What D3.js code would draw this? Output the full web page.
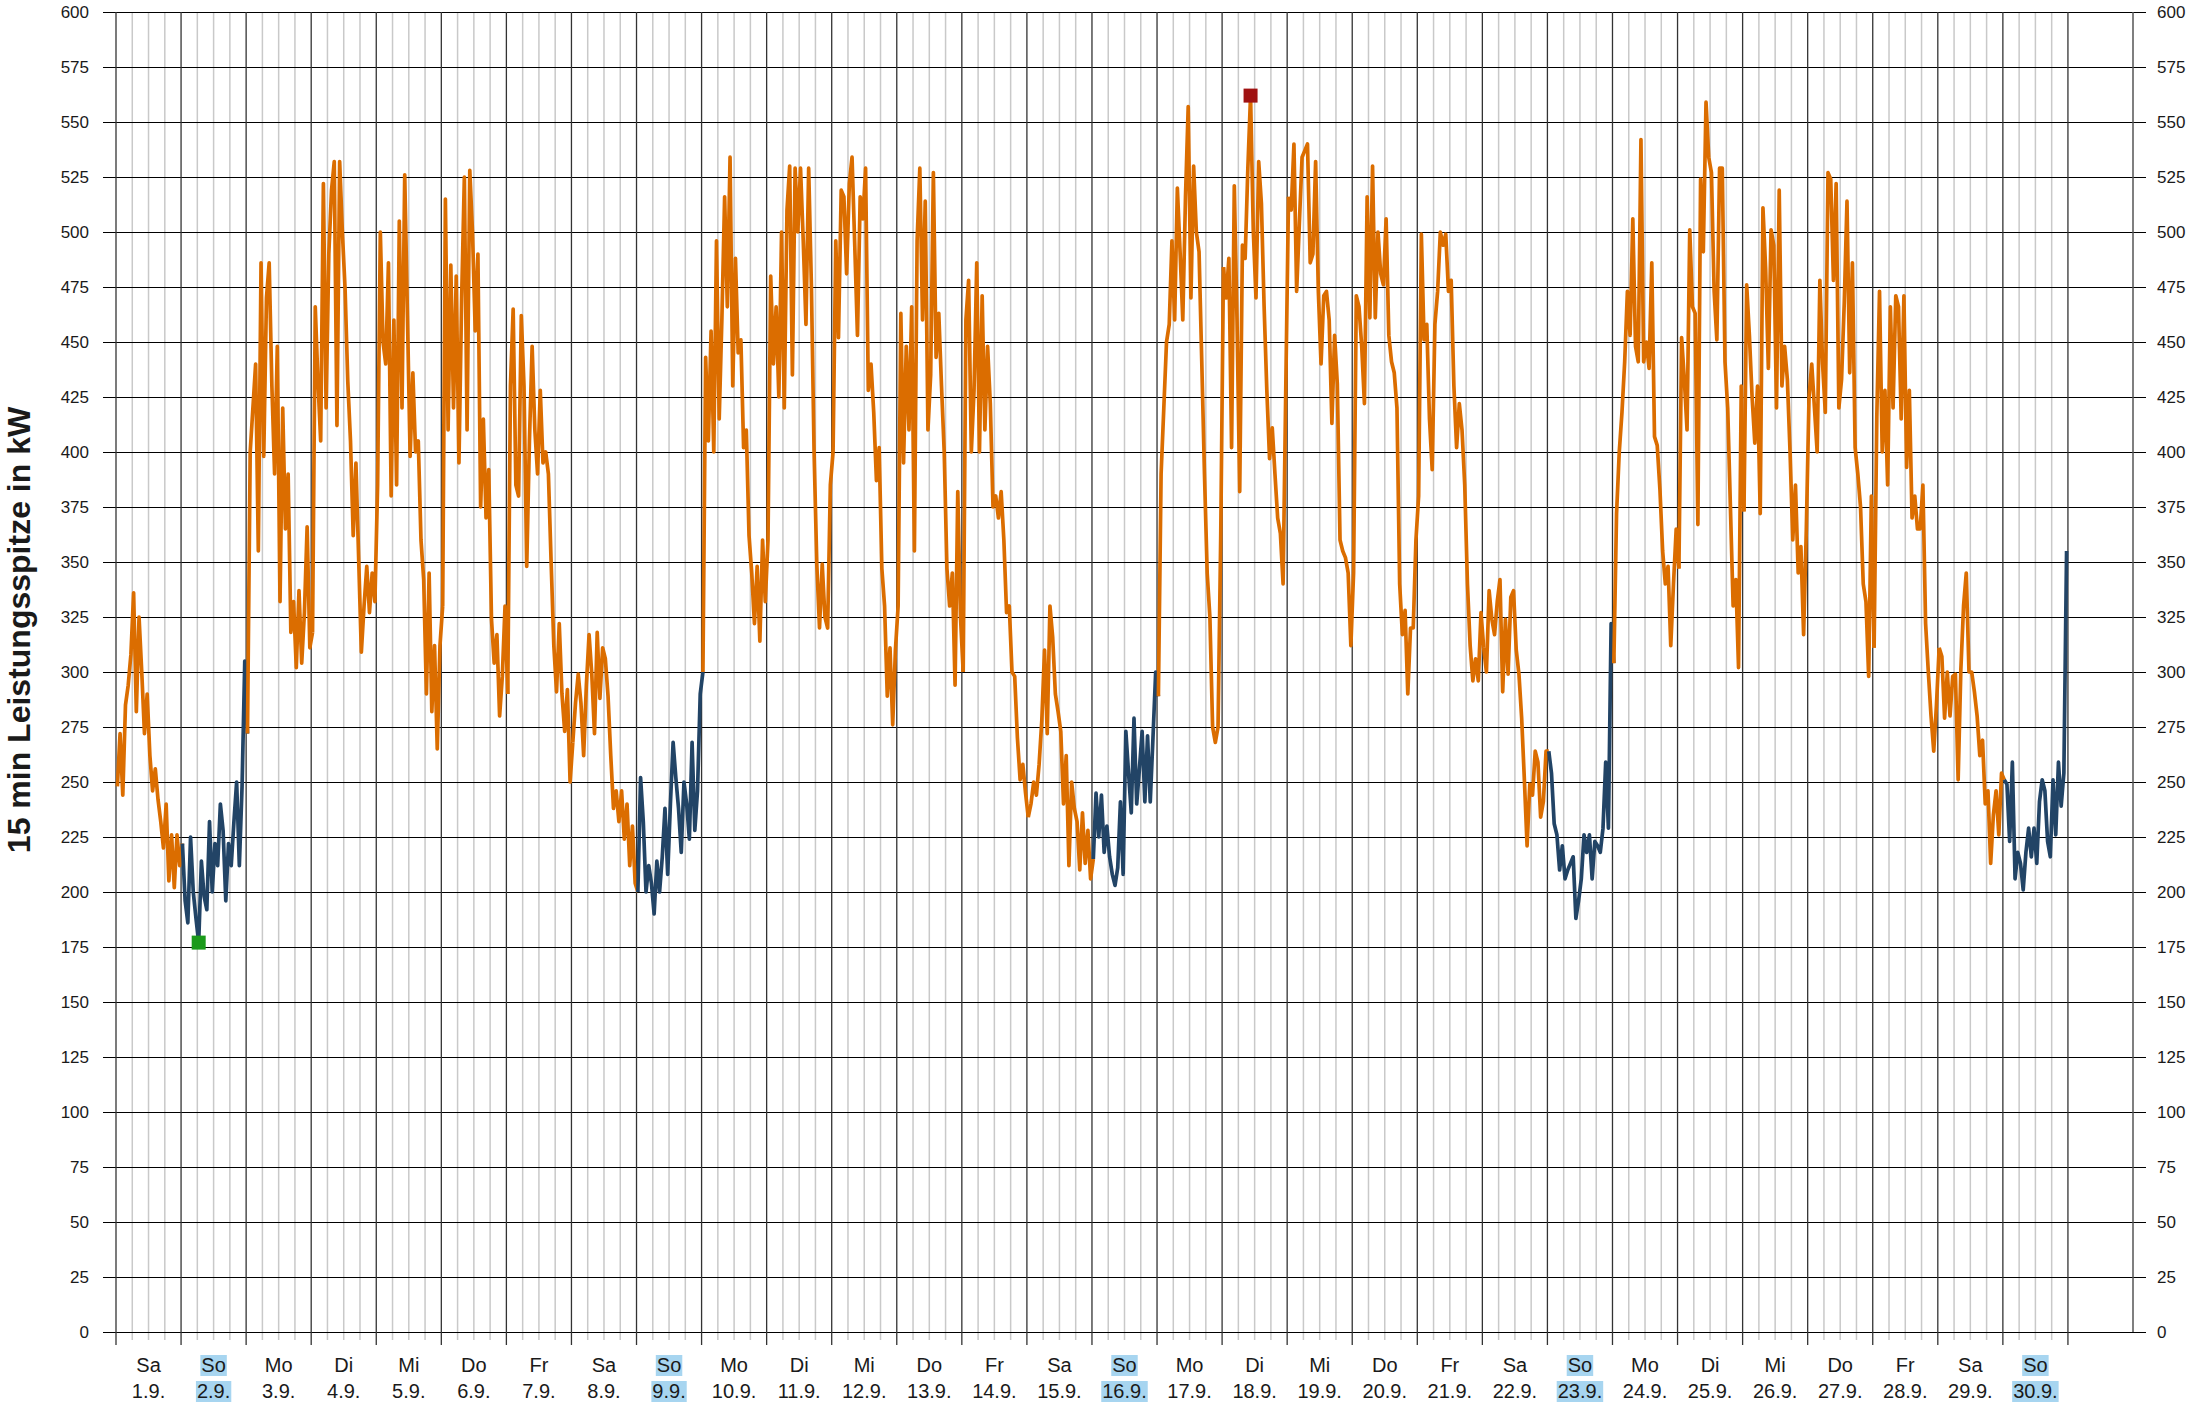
<!DOCTYPE html>
<html>
<head>
<meta charset="utf-8">
<script src="https://d3js.org/d3.v7.min.js"></script>
<style>
body { margin: 0; background: #fff; }
svg text { font-family: "Liberation Sans", Arial, sans-serif; fill: #1a1a1a; }
</style>
</head>
<body>
<div id="chart"></div>
<script>
// hourly 15-min peak values (kW), one array per day of September
const sep01 = [248, 272, 244, 285, 294, 308, 336, 282, 325, 300, 272, 290, 262, 246, 256, 242, 232, 220, 240, 205, 226, 202, 226, 212]
const sep02 = [222, 196, 186, 225, 200, 188, 177, 214, 198, 192, 232, 200, 222, 212, 240, 228, 196, 222, 212, 232, 250, 212, 248, 305]
const sep03 = [272, 400, 420, 440, 355, 486, 398, 470, 486, 430, 390, 448, 332, 420, 365, 390, 318, 332, 302, 337, 304, 327, 366, 311]
const sep04 = [318, 466, 432, 405, 522, 420, 490, 519, 532, 412, 532, 500, 474, 432, 405, 362, 395, 352, 309, 330, 348, 327, 345, 332]
const sep05 = [385, 500, 450, 440, 486, 380, 460, 385, 505, 420, 526, 462, 398, 436, 400, 405, 360, 342, 290, 345, 282, 312, 265, 312]
const sep06 = [330, 515, 410, 485, 420, 480, 395, 470, 525, 410, 528, 500, 455, 490, 375, 415, 370, 392, 324, 304, 317, 280, 298, 330]
const sep07 = [290, 430, 465, 385, 380, 462, 430, 348, 405, 448, 410, 390, 428, 395, 400, 390, 350, 312, 291, 322, 290, 273, 292, 250]
const sep08 = [268, 286, 299, 286, 262, 294, 317, 299, 272, 318, 288, 311, 306, 289, 262, 238, 246, 232, 246, 224, 240, 212, 230, 204]
const sep09 = [200, 252, 232, 200, 212, 204, 190, 214, 200, 216, 238, 208, 240, 268, 252, 238, 218, 250, 240, 224, 268, 228, 246, 290]
const sep10 = [300, 443, 405, 455, 400, 496, 415, 461, 516, 466, 534, 430, 488, 445, 451, 402, 410, 362, 345, 322, 348, 314, 360, 332]
const sep11 = [360, 480, 440, 466, 425, 500, 420, 510, 530, 435, 529, 500, 529, 496, 458, 529, 476, 400, 349, 320, 349, 325, 320, 385]
const sep12 = [400, 496, 452, 519, 516, 481, 522, 534, 494, 453, 516, 506, 529, 428, 440, 418, 387, 402, 347, 330, 289, 311, 276, 310]
const sep13 = [330, 463, 395, 448, 410, 466, 355, 496, 529, 460, 514, 410, 435, 527, 443, 463, 430, 400, 347, 330, 345, 294, 382, 325]
const sep14 = [300, 460, 478, 400, 428, 486, 400, 471, 410, 448, 422, 375, 380, 370, 382, 360, 327, 330, 300, 298, 270, 251, 258, 245]
const sep15 = [234, 240, 250, 244, 258, 278, 310, 272, 330, 316, 290, 282, 273, 240, 262, 212, 250, 238, 232, 210, 236, 213, 228, 206]
const sep16 = [215, 245, 225, 244, 218, 230, 216, 208, 203, 211, 241, 208, 273, 254, 236, 279, 240, 256, 273, 241, 271, 241, 270, 300]
const sep17 = [289, 390, 420, 450, 458, 496, 460, 520, 491, 460, 516, 557, 470, 530, 500, 491, 441, 390, 345, 325, 275, 268, 275, 362]
const sep18 = [484, 470, 488, 402, 521, 460, 382, 494, 488, 529, 562, 501, 470, 532, 513, 466, 428, 397, 411, 390, 370, 363, 340, 430]
const sep19 = [516, 510, 540, 473, 504, 534, 537, 540, 486, 490, 532, 473, 440, 471, 473, 460, 413, 453, 431, 360, 355, 352, 345, 312]
const sep20 = [345, 471, 466, 448, 422, 516, 461, 530, 461, 500, 481, 476, 506, 453, 441, 436, 420, 340, 317, 328, 290, 320, 320, 360]
const sep21 = [380, 499, 451, 458, 415, 392, 458, 473, 500, 494, 499, 473, 478, 430, 402, 422, 410, 385, 340, 312, 296, 306, 296, 327]
const sep22 = [311, 300, 337, 324, 317, 332, 342, 291, 324, 299, 334, 337, 310, 299, 279, 251, 221, 249, 244, 264, 259, 234, 241, 264]
const sep23 = [264, 254, 231, 226, 210, 221, 206, 210, 213, 216, 188, 196, 206, 226, 218, 226, 206, 223, 221, 218, 229, 259, 229, 322]
const sep24 = [304, 372, 400, 418, 441, 473, 453, 506, 448, 441, 542, 441, 450, 438, 486, 407, 403, 383, 355, 340, 348, 312, 340, 365]
const sep25 = [347, 452, 433, 410, 501, 466, 463, 367, 524, 491, 559, 534, 527, 473, 451, 529, 529, 441, 420, 375, 330, 342, 302, 430]
const sep26 = [373, 476, 453, 425, 404, 430, 372, 511, 483, 438, 501, 494, 420, 519, 430, 448, 433, 400, 360, 385, 345, 357, 317, 365]
const sep27 = [425, 440, 420, 400, 478, 440, 418, 527, 524, 478, 522, 420, 433, 468, 514, 436, 486, 402, 390, 375, 340, 332, 298, 380]
const sep28 = [311, 416, 473, 400, 428, 385, 466, 420, 471, 466, 415, 471, 393, 428, 370, 380, 365, 365, 385, 322, 300, 280, 264, 285]
const sep29 = [311, 307, 279, 300, 280, 298, 299, 251, 301, 330, 345, 300, 300, 291, 280, 262, 269, 240, 246, 213, 235, 246, 226, 254]
const sep30 = [251, 249, 223, 259, 206, 218, 213, 201, 218, 229, 216, 229, 213, 241, 251, 246, 223, 216, 251, 226, 259, 239, 254, 355]

const hourly = [sep01, sep02, sep03, sep04, sep05, sep06, sep07, sep08, sep09, sep10,
                sep11, sep12, sep13, sep14, sep15, sep16, sep17, sep18, sep19, sep20,
                sep21, sep22, sep23, sep24, sep25, sep26, sep27, sep28, sep29, sep30]

const dayNames = ['Sa','So','Mo','Di','Mi','Do','Fr','Sa','So','Mo','Di','Mi','Do','Fr','Sa',
                  'So','Mo','Di','Mi','Do','Fr','Sa','So','Mo','Di','Mi','Do','Fr','Sa','So']
const dateLabels = ['1.9.','2.9.','3.9.','4.9.','5.9.','6.9.','7.9.','8.9.','9.9.','10.9.',
                    '11.9.','12.9.','13.9.','14.9.','15.9.','16.9.','17.9.','18.9.','19.9.','20.9.',
                    '21.9.','22.9.','23.9.','24.9.','25.9.','26.9.','27.9.','28.9.','29.9.','30.9.']
const yTicks = d3.range(0, 601, 25)

var orange = '#db6d00'
var blue = '#224466'

var svg = d3.select('#chart').append('svg')
    .attr('width', 2202)
    .attr('height', 1406)

svg.append('rect').attr('width', 2202).attr('height', 1406).attr('fill', '#fff')

var xs = d3.scaleLinear().domain([0, 31]).range([116, 2133])
var ys = d3.scaleLinear().domain([0, 600]).range([1332, 12])

// 6 hour lines
var quarters = []
d3.range(30).forEach(function(d) { quarters.push(d + 0.25, d + 0.5, d + 0.75) })

svg.append('g').selectAll('line')
    .data(quarters).enter().append('line')
    .attr('x1', function(d) { return xs(d) }).attr('x2', function(d) { return xs(d) })
    .attr('y1', ys(600)).attr('y2', ys(0) + 8)
    .attr('stroke', '#c9c9c9').attr('stroke-width', 1.5)

// horizontal grid + left labels
svg.append('g')
    .attr('transform', 'translate(103,0)')
    .call(d3.axisLeft(ys).tickValues(yTicks).tickSize(-2043).tickPadding(14))
    .call(function(g) {
        g.select('.domain').remove()
        g.selectAll('.tick line').attr('stroke', '#000').attr('stroke-width', 1.2)
        g.selectAll('.tick text').attr('font-size', 17).attr('fill', '#1a1a1a')
            .attr('font-family', '"Liberation Sans", Arial, sans-serif')
    })

svg.append('g')
    .attr('transform', 'translate(2146,0)')
    .call(d3.axisRight(ys).tickValues(yTicks).tickSize(0).tickPadding(11))
    .call(function(g) {
        g.select('.domain').remove()
        g.selectAll('.tick text').attr('font-size', 17).attr('fill', '#1a1a1a')
            .attr('font-family', '"Liberation Sans", Arial, sans-serif')
    })

// day lines
svg.append('g').selectAll('line')
    .data(d3.range(31)).enter().append('line')
    .attr('x1', function(d) { return xs(d) }).attr('x2', function(d) { return xs(d) })
    .attr('y1', ys(600)).attr('y2', ys(0) + 13)
    .attr('stroke', '#333').attr('stroke-width', 1.3)

svg.append('line')
    .attr('x1', xs(31)).attr('x2', xs(31))
    .attr('y1', ys(600)).attr('y2', ys(0))
    .attr('stroke', '#555').attr('stroke-width', 1.5)

// day labels
var labels = svg.append('g')
dayNames.forEach(function(name, i) {
    var cx = xs(i + 0.5)
    var sunday = name == 'So'
    ;[[name, 1372], [dateLabels[i], 1398]].forEach(function(p) {
        var g = labels.append('g')
        var t = g.append('text')
            .attr('x', cx).attr('y', p[1])
            .attr('text-anchor', 'middle')
            .attr('font-size', 20)
            .text(p[0])
        if (sunday) {
            var b = t.node().getBBox()
            g.insert('rect', 'text')
                .attr('x', b.x - 1).attr('y', b.y + 1)
                .attr('width', b.width + 2).attr('height', b.height - 1)
                .attr('fill', '#a7d5f0')
        }
    })
})

// load line, one path per day, joined to the next day's first value
var line = d3.line()
    .x(function(d) { return xs(d[0]) })
    .y(function(d) { return ys(d[1]) })

var points = hourly.map(function(vals, d) {
    return vals.map(function(v, h) { return [d + (h + 0.5) / 24, v] })
})

svg.append('g').selectAll('path')
    .data(points).enter().append('path')
    .attr('d', function(pts, d) {
        var p = pts.slice()
        if (d < points.length - 1) p.push(points[d + 1][0])
        return line(p)
    })
    .attr('fill', 'none')
    .attr('stroke', function(pts, d) { return dayNames[d] == 'So' ? blue : orange })
    .attr('stroke-width', 3.7)
    .attr('stroke-linejoin', 'round')

// min / max markers
var all = points.flat()
var minPt = all.reduce(function(a, b) { return b[1] < a[1] ? b : a })
var maxPt = all.reduce(function(a, b) { return b[1] > a[1] ? b : a })

svg.append('rect')
    .attr('x', xs(minPt[0]) - 7).attr('y', ys(minPt[1]) - 7)
    .attr('width', 14).attr('height', 14)
    .attr('fill', '#1b9a1b')
svg.append('rect')
    .attr('x', xs(maxPt[0]) - 7).attr('y', ys(maxPt[1]) - 7)
    .attr('width', 14).attr('height', 14)
    .attr('fill', '#a01212')

// axis title
svg.append('text')
    .attr('transform', 'translate(30,630) rotate(-90)')
    .attr('text-anchor', 'middle')
    .attr('font-size', 32)
    .attr('font-weight', 'bold')
    .text('15 min Leistungsspitze in kW')
</script>
</body>
</html>
